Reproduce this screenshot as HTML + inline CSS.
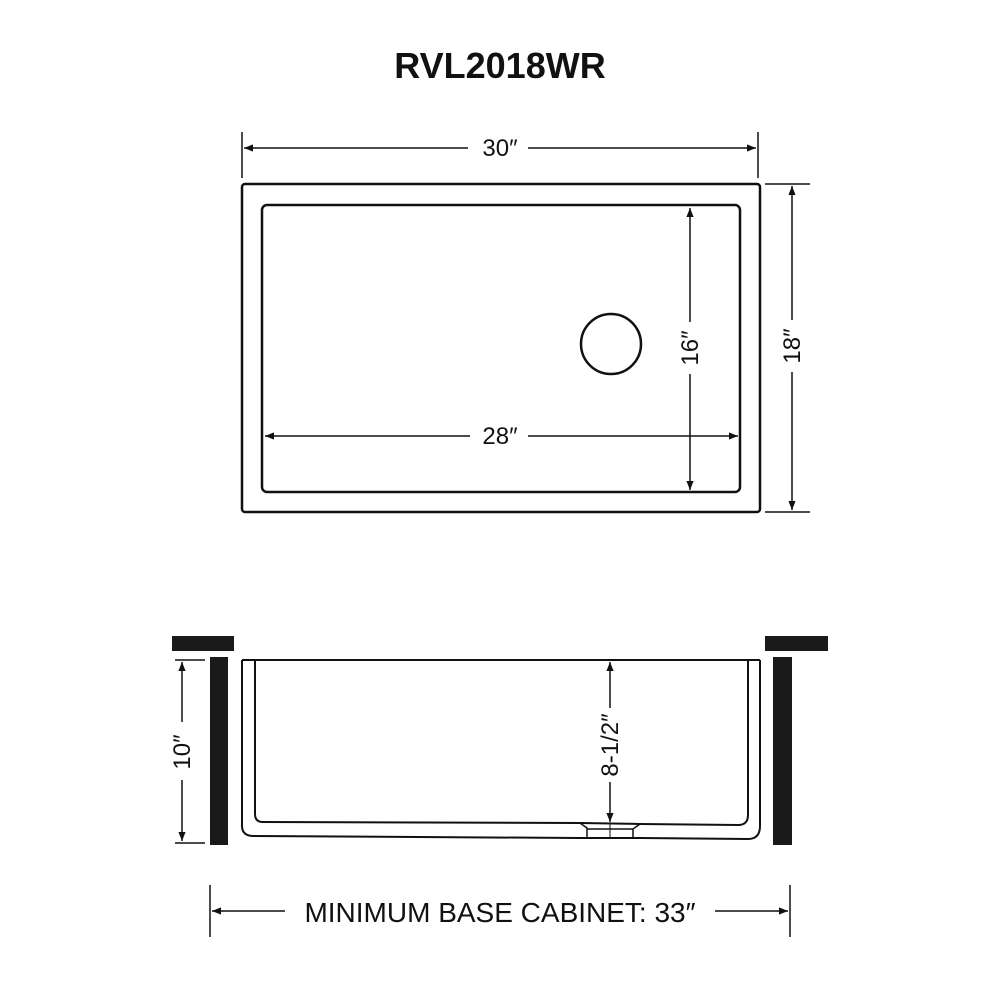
<!DOCTYPE html>
<html><head><meta charset="utf-8"><style>body{margin:0;background:#fff}svg{display:block}</style></head>
<body>
<svg width="1000" height="1000" viewBox="0 0 1000 1000" xmlns="http://www.w3.org/2000/svg" font-family="Liberation Sans, sans-serif">
<defs>
<marker id="a" viewBox="0 0 10 10" refX="10" refY="5" markerWidth="9" markerHeight="9" orient="auto-start-reverse" markerUnits="userSpaceOnUse"><path d="M0,1 L10,5 L0,9 z" fill="#111"/></marker>
</defs>
<text x="500" y="78" font-size="36" font-weight="bold" text-anchor="middle" fill="#111">RVL2018WR</text>
<g stroke="#111" fill="none">
<rect x="242" y="184" width="518" height="328" rx="3" stroke-width="2.5"/>
<rect x="262" y="205" width="478" height="287" rx="5" stroke-width="2.5"/>
<circle cx="611" cy="344" r="30" stroke-width="2.5"/>
<!-- 30 -->
<line x1="242" y1="132" x2="242" y2="178" stroke-width="1.5"/>
<line x1="758" y1="132" x2="758" y2="178" stroke-width="1.5"/>
<line x1="244" y1="148" x2="468" y2="148" stroke-width="1.5" marker-start="url(#a)"/>
<line x1="528" y1="148" x2="756" y2="148" stroke-width="1.5" marker-end="url(#a)"/>
<!-- 18 -->
<line x1="765" y1="184" x2="810" y2="184" stroke-width="1.5"/>
<line x1="765" y1="512" x2="810" y2="512" stroke-width="1.5"/>
<line x1="792" y1="186" x2="792" y2="320" stroke-width="1.5" marker-start="url(#a)"/>
<line x1="792" y1="372" x2="792" y2="510" stroke-width="1.5" marker-end="url(#a)"/>
<!-- 16 -->
<line x1="690" y1="208" x2="690" y2="322" stroke-width="1.5" marker-start="url(#a)"/>
<line x1="690" y1="374" x2="690" y2="490" stroke-width="1.5" marker-end="url(#a)"/>
<!-- 28 -->
<line x1="265" y1="436" x2="470" y2="436" stroke-width="1.5" marker-start="url(#a)"/>
<line x1="528" y1="436" x2="738" y2="436" stroke-width="1.5" marker-end="url(#a)"/>
</g>
<g font-size="24" fill="#111" text-anchor="middle">
<text x="500" y="156">30″</text>
<text x="500" y="444">28″</text>
<text transform="translate(800,346) rotate(-90)">18″</text>
<text transform="translate(698,348) rotate(-90)">16″</text>
<text transform="translate(190,752) rotate(-90)">10″</text>
<text transform="translate(618,745) rotate(-90)">8-1/2″</text>
<text x="500" y="922" font-size="28">MINIMUM BASE CABINET: 33″</text>
</g>
<!-- bottom section -->
<rect x="172" y="636" width="62" height="15" fill="#1a1a1a"/>
<rect x="210" y="657" width="18" height="188" fill="#1a1a1a"/>
<rect x="765" y="636" width="63" height="15" fill="#1a1a1a"/>
<rect x="773" y="657" width="19" height="188" fill="#1a1a1a"/>
<g stroke="#111" fill="none" stroke-width="2">
<path d="M242,660 L760,660"/>
<path d="M242,660 L242,826 Q242,836 254,836 L580,838 L640,838 L748,839 Q760,839 760,826 L760,660"/>
<path d="M255,660 L255,814 Q255,822 263,822 L580,823 L640,824 L738,825 Q748,825 748,815 L748,660"/>
<path d="M580,823 L587,828 L587,838 M640,824 L633,829 L633,838 M587,829 L633,829" stroke-width="1.5"/>
<line x1="610" y1="823" x2="610" y2="838" stroke-width="1"/>
<!-- 10 -->
<line x1="175" y1="660" x2="205" y2="660" stroke-width="1.5"/>
<line x1="175" y1="843" x2="205" y2="843" stroke-width="1.5"/>
<line x1="182" y1="662" x2="182" y2="722" stroke-width="1.5" marker-start="url(#a)"/>
<line x1="182" y1="780" x2="182" y2="841" stroke-width="1.5" marker-end="url(#a)"/>
<!-- 8-1/2 -->
<line x1="610" y1="662" x2="610" y2="708" stroke-width="1.5" marker-start="url(#a)"/>
<line x1="610" y1="782" x2="610" y2="822" stroke-width="1.5" marker-end="url(#a)"/>
<!-- 33 -->
<line x1="210" y1="885" x2="210" y2="937" stroke-width="1.5"/>
<line x1="790" y1="885" x2="790" y2="937" stroke-width="1.5"/>
<line x1="212" y1="911" x2="285" y2="911" stroke-width="1.5" marker-start="url(#a)"/>
<line x1="715" y1="911" x2="788" y2="911" stroke-width="1.5" marker-end="url(#a)"/>
</g>
</svg>
</body></html>
